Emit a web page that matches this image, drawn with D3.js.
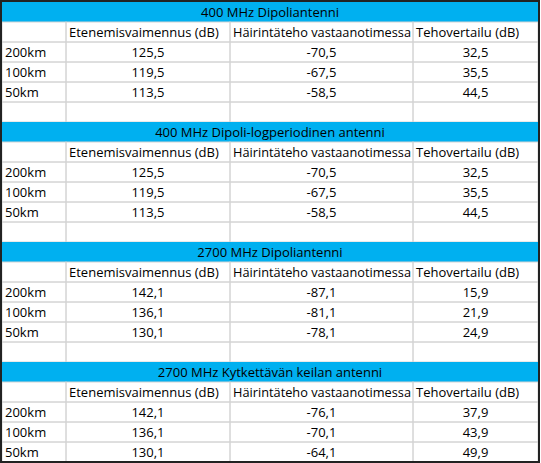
<!DOCTYPE html><html><head><meta charset="utf-8"><script src="https://d3js.org/d3.v7.min.js"></script>
<style>body{margin:0;background:#fff}</style></head><body><svg id="c" width="541" height="463"></svg>
<script>
const titles=["400 MHz Dipoliantenni","400 MHz Dipoli-logperiodinen antenni","2700 MHz Dipoliantenni","2700 MHz Kytkettävän keilan antenni"];
const headers=["","Etenemisvaimennus (dB)","Häirintäteho vastaanotimessa","Tehovertailu (dB)"];
const distances=["200km","100km","50km"];
const attenuation=[["125,5","119,5","113,5"],["125,5","119,5","113,5"],["142,1","136,1","130,1"],["142,1","136,1","130,1"]];
const interference=[["-70,5","-67,5","-58,5"],["-70,5","-67,5","-58,5"],["-87,1","-81,1","-78,1"],["-76,1","-70,1","-64,1"]];
const comparison=[["32,5","35,5","44,5"],["32,5","35,5","44,5"],["15,9","21,9","24,9"],["37,9","43,9","49,9"]];
const svg=d3.select("#c");
const colX=[2,66,230,413,538];
const rowH=20, top0=2;
const font="'Open Sans', sans-serif", fs=13;
let rows=[];
titles.forEach((t,b)=>{
  rows.push({type:"title",text:t});
  rows.push({type:"head"});
  distances.forEach((d,i)=>rows.push({type:"data",cells:[d,attenuation[b][i],interference[b][i],comparison[b][i]]}));
  if(b<titles.length-1) rows.push({type:"empty"});
});
const y=d3.scaleLinear().domain([0,1]).range([top0,top0+rowH]);
rows.forEach((r,i)=>{
  const y0=y(i), g=svg.append("g");
  if(r.type==="title"){
    g.append("rect").attr("x",colX[0]).attr("y",y0).attr("width",colX[4]-colX[0]).attr("height",rowH).attr("fill","#00B0F0");
    g.append("text").attr("x",(colX[0]+colX[4])/2).attr("y",y0+15).attr("text-anchor","middle").attr("font-family",font).attr("font-size",fs).attr("fill","#000").text(r.text);
    return;
  }
  for(let j=0;j<4;j++){
    g.append("rect").attr("x",colX[j]).attr("y",y0).attr("width",colX[j+1]-colX[j]).attr("height",rowH).attr("fill","none").attr("stroke","#D4D4D4");
  }
  const cells=r.type==="head"?headers:r.type==="data"?r.cells:null;
  if(!cells) return;
  cells.forEach((c,j)=>{
    const left=(r.type==="head"||j===0);
    const t=g.append("text")
     .attr("x",left?colX[j]+3:(colX[j]+colX[j+1])/2).attr("y",y0+15)
     .attr("text-anchor",left?"start":"middle").attr("font-family",font).attr("font-size",fs).attr("fill","#000").text(c);
    if(r.type==="head"&&j===2) t.attr("textLength",178).attr("lengthAdjust","spacingAndGlyphs");
  });
});
svg.append("rect").attr("x",1).attr("y",1).attr("width",538).attr("height",y(rows.length)-1).attr("fill","none").attr("stroke","#222").attr("stroke-width",2);
</script></body></html>
